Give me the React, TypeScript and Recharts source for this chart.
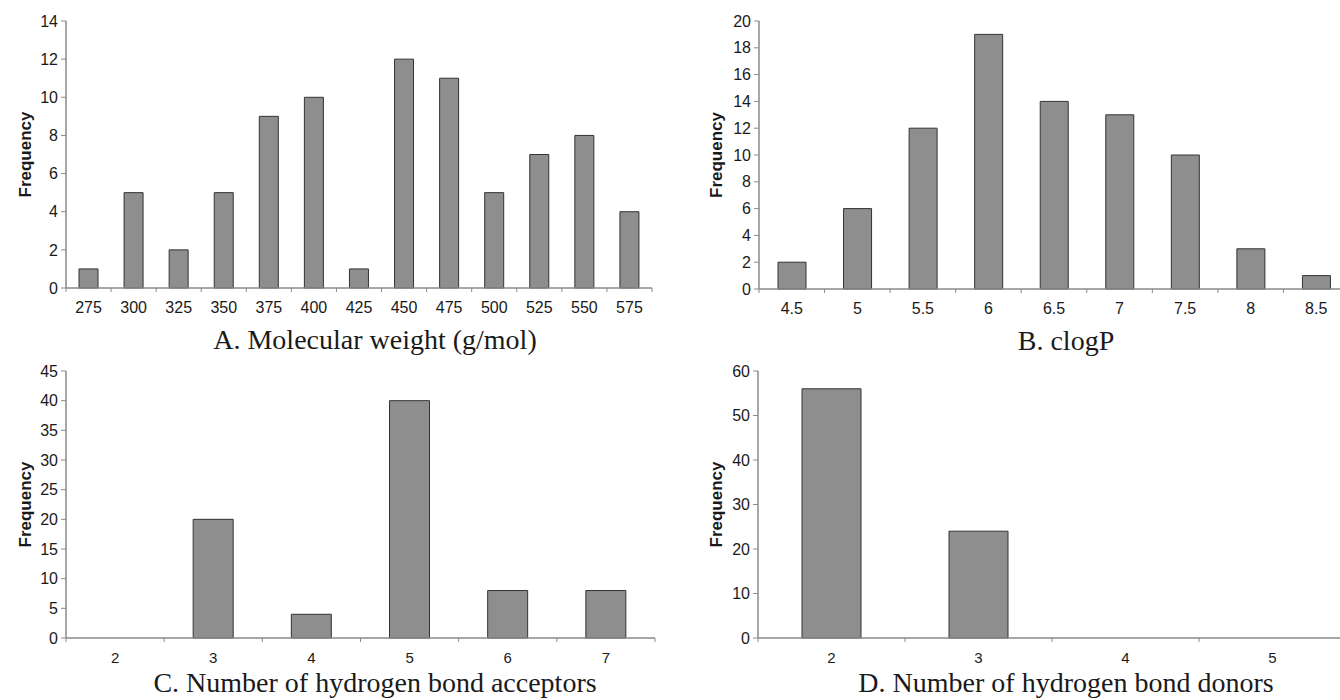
import React from 'react'
import { BarChart, Bar, XAxis, YAxis } from 'recharts'

// A. molecular weight histogram
const mwBins = ['275', '300', '325', '350', '375', '400', '425', '450', '475', '500', '525', '550', '575']
const mwCounts = [1, 5, 2, 5, 9, 10, 1, 12, 11, 5, 7, 8, 4]
const mwTicks = [0, 2, 4, 6, 8, 10, 12, 14]

// B. clogP histogram
const clogpBins = ['4.5', '5', '5.5', '6', '6.5', '7', '7.5', '8', '8.5']
const clogpCounts = [2, 6, 12, 19, 14, 13, 10, 3, 1]
const clogpTicks = [0, 2, 4, 6, 8, 10, 12, 14, 16, 18, 20]

// C. H-bond acceptors
const accBins = ['2', '3', '4', '5', '6', '7']
const accCounts = [0, 20, 4, 40, 8, 8]
const accTicks = [0, 5, 10, 15, 20, 25, 30, 35, 40, 45]

// D. H-bond donors
const donBins = ['2', '3', '4', '5']
const donCounts = [56, 24, 0, 0]
const donTicks = [0, 10, 20, 30, 40, 50, 60]

const toRows = (bins: string[], counts: number[]) =>
  bins.map((bin, i) => ({ bin, count: counts[i] }))

const AXIS = '#8a8a8a'
const TEXT = '#1a1a1a'
const SANS = '"Liberation Sans", Arial, Helvetica, sans-serif'
const SERIF = '"Liberation Serif", "Times New Roman", serif'

interface BinTickProps {
  x?: number
  y?: number
  index?: number
  payload?: { value: string }
  band: number
  count: number
  labelSize: number
}

function BinTick({ x = 0, y = 0, index = 0, payload, band, count, labelSize }: BinTickProps) {
  const left = x - band / 2
  const right = x + band / 2
  return (
    <g>
      <line x1={left} x2={left} y1={y} y2={y + 4} stroke={AXIS} />
      {index === count - 1 && <line x1={right} x2={right} y1={y} y2={y + 4} stroke={AXIS} />}
      <text
        x={x}
        y={y + 25}
        textAnchor="middle"
        fill={TEXT}
        style={{ fontSize: labelSize, fontFamily: SANS }}
      >
        {payload?.value}
      </text>
    </g>
  )
}

interface PanelProps {
  bins: string[]
  counts: number[]
  yTicks: number[]
  left: number
  top: number
  width: number
  height: number
  marginTop: number
  marginRight: number
  yAxisWidth: number
  xAxisHeight: number
  barSize: number
  title: string
  titleX: number
  titleY: number
  freqX: number
  xFont: number
}

function Panel(p: PanelProps) {
  const data = toRows(p.bins, p.counts)
  const plotWidth = p.width - p.yAxisWidth - p.marginRight
  const plotHeight = p.height - p.marginTop - p.xAxisHeight
  const band = plotWidth / p.bins.length
  const yMax = p.yTicks[p.yTicks.length - 1]
  const freqY = p.marginTop + plotHeight / 2

  return (
    <div style={{ position: 'absolute', left: p.left, top: p.top }}>
      <BarChart
        width={p.width}
        height={p.height}
        data={data}
        margin={{ top: p.marginTop, right: p.marginRight, bottom: 0, left: 0 }}
      >
        <XAxis
          dataKey="bin"
          interval={0}
          height={p.xAxisHeight}
          tickLine={false}
          tickSize={0}
          tickMargin={0}
          axisLine={{ stroke: AXIS, strokeWidth: 1.5 }}
          tick={<BinTick band={band} count={p.bins.length} labelSize={p.xFont} />}
          label={{
            content: () => (
              <text x={p.titleX} y={p.titleY} textAnchor="middle" fill={TEXT} fontSize={28} fontFamily={SERIF}>
                {p.title}
              </text>
            ),
          }}
        />
        <XAxis
          xAxisId="top"
          orientation="top"
          dataKey="bin"
          height={0}
          tick={false}
          tickLine={false}
          axisLine={{ stroke: AXIS, strokeWidth: 1.5 }}
        />
        <YAxis
          domain={[0, yMax]}
          ticks={p.yTicks}
          interval={0}
          width={p.yAxisWidth}
          tickSize={5}
          tickMargin={3}
          tickLine={{ stroke: AXIS }}
          axisLine={{ stroke: AXIS, strokeWidth: 1.5 }}
          tick={{ fill: TEXT, fontSize: 16, fontFamily: SANS }}
          label={{
            content: () => (
              <text
                x={p.freqX}
                y={freqY}
                transform={`rotate(-90 ${p.freqX} ${freqY})`}
                textAnchor="middle"
                dominantBaseline="central"
                fill={TEXT}
                fontSize={17}
                fontWeight="bold"
                fontFamily={SANS}
              >
                Frequency
              </text>
            ),
          }}
        />
        <YAxis
          yAxisId="right"
          orientation="right"
          domain={[0, yMax]}
          width={0}
          tick={false}
          tickLine={false}
          axisLine={{ stroke: AXIS, strokeWidth: 1.5 }}
        />
        <Bar
          dataKey="count"
          fill="#8e8e8e"
          stroke="#333"
          strokeWidth={1}
          barSize={p.barSize}
          isAnimationActive={false}
        />
      </BarChart>
    </div>
  )
}

export default function App() {
  return (
    <div
      style={{
        position: 'absolute',
        left: 0,
        top: 0,
        width: 1340,
        height: 700,
        overflow: 'hidden',
        background: '#fff',
      }}
    >
      <Panel
        bins={mwBins}
        counts={mwCounts}
        yTicks={mwTicks}
        left={0}
        top={0}
        width={680}
        height={360}
        marginTop={21}
        marginRight={28}
        yAxisWidth={66}
        xAxisHeight={72}
        barSize={19}
        title="A. Molecular weight (g/mol)"
        titleX={375}
        titleY={349}
        freqX={25}
        xFont={16}
      />
      <Panel
        bins={clogpBins}
        counts={clogpCounts}
        yTicks={clogpTicks}
        left={680}
        top={0}
        width={680}
        height={360}
        marginTop={21}
        marginRight={11}
        yAxisWidth={79}
        xAxisHeight={71}
        barSize={28}
        title="B. clogP"
        titleX={386}
        titleY={350}
        freqX={36}
        xFont={16}
      />
      <Panel
        bins={accBins}
        counts={accCounts}
        yTicks={accTicks}
        left={0}
        top={360}
        width={680}
        height={340}
        marginTop={11}
        marginRight={25}
        yAxisWidth={66}
        xAxisHeight={62}
        barSize={40}
        title="C. Number of hydrogen bond acceptors"
        titleX={375}
        titleY={332}
        freqX={25}
        xFont={15}
      />
      <Panel
        bins={donBins}
        counts={donCounts}
        yTicks={donTicks}
        left={680}
        top={360}
        width={680}
        height={340}
        marginTop={11}
        marginRight={14}
        yAxisWidth={78}
        xAxisHeight={62}
        barSize={59}
        title="D. Number of hydrogen bond donors"
        titleX={386}
        titleY={332}
        freqX={36}
        xFont={15}
      />
    </div>
  )
}
